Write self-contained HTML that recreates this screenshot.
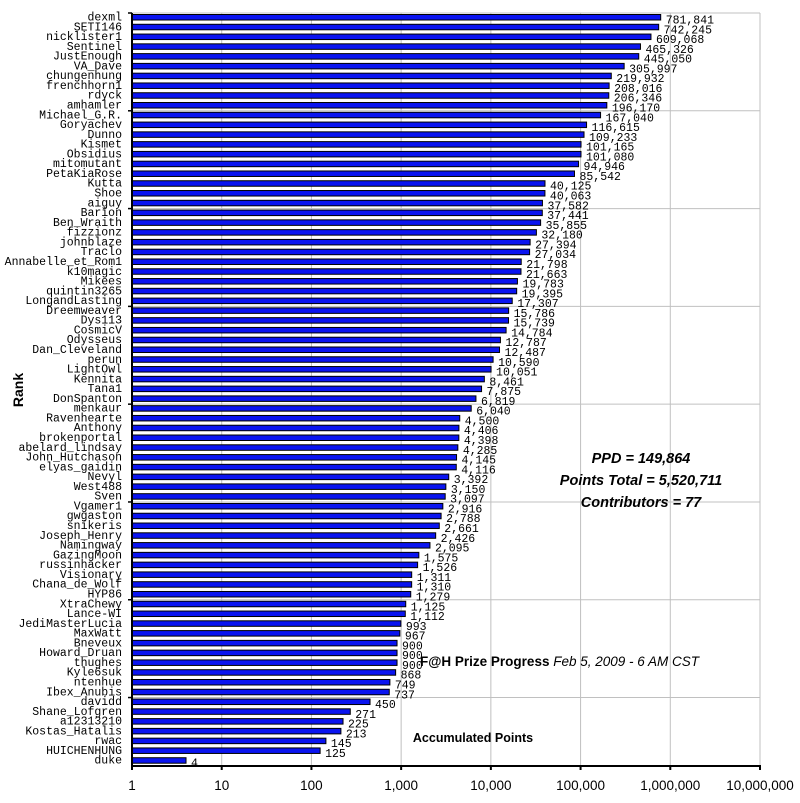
<!DOCTYPE html>
<html><head><meta charset="utf-8"><style>
html,body{margin:0;padding:0;background:#fff}
svg{display:block}
.mono{font-family:"Liberation Mono",monospace;font-size:11.5px}
</style></head><body>
<svg id="chart" width="800" height="803" xmlns="http://www.w3.org/2000/svg">
<g id="grid"></g>
<g id="bars"></g>
<g id="axes"></g>
<text x="0" y="0" transform="translate(23,390) rotate(-90)" text-anchor="middle" font-family="Liberation Sans,sans-serif" font-weight="bold" font-size="14">Rank</text>
<text x="473" y="742" text-anchor="middle" font-family="Liberation Sans,sans-serif" font-weight="bold" font-size="12.5">Accumulated Points</text>
<g font-family="Liberation Sans,sans-serif" font-style="italic" font-weight="bold" font-size="14.5" text-anchor="middle">
<text x="641" y="463">PPD = 149,864</text>
<text x="641" y="485">Points Total = 5,520,711</text>
<text x="641" y="507">Contributors = 77</text>
</g>
<text x="420" y="666" font-family="Liberation Sans,sans-serif" font-size="13.5"><tspan font-weight="bold">F@H Prize Progress</tspan><tspan font-style="italic"> Feb 5, 2009 - 6 AM CST</tspan></text>
</svg>
<script>
const names=["dexml","SETI146","nicklister1","Sentinel","JustEnough","VA_Dave","chungenhung","frenchhorn1","rdyck","amhamler","Michael_G.R.","Goryachev","Dunno","Kismet","Obsidius","mitomutant","PetaKiaRose","Kutta","Shoe","aiguy","Barion","Ben_Wraith","fizzionz","johnblaze","Traclo","Annabelle_et_Rom1","k10magic","Mikees","quintin3265","LongandLasting","Dreemweaver","Dys113","CosmicV","Odysseus","Dan_Cleveland","perun","LightOwl","Kennita","Tana1","DonSpanton","menkaur","Ravenhearte","Anthony","brokenportal","abelard_lindsay","John_Hutchason","elyas_gaidin","Nevyl","West488","Sven","Vgamer1","gwgaston","snikeris","Joseph_Henry","Namingway","GazingMoon","russinhacker","Visionary","Chana_de_Wolf","HYP86","XtraChewy","Lance-WI","JediMasterLucia","MaxWatt","Bneveux","Howard_Druan","thughes","Kyle6suk","ntenhue","Ibex_Anubis","davidd","Shane_Lofgren","a12313210","Kostas_Hatalis","rwac","HUICHENHUNG","duke"];
const points=[781841,742245,609068,465326,445050,305997,219932,208016,206346,196170,167040,116615,109233,101165,101080,94946,85542,40125,40063,37582,37441,35855,32180,27394,27034,21798,21663,19783,19395,17307,15786,15739,14784,12787,12487,10590,10051,8461,7875,6819,6040,4500,4406,4398,4285,4145,4116,3392,3150,3097,2916,2788,2661,2426,2095,1575,1526,1311,1310,1279,1125,1112,993,967,900,900,900,868,749,737,450,271,225,213,145,125,4];
const xTicks=[1,10,100,1000,10000,100000,1000000,10000000];
const L=132,R=760,T=13,B=766;
const NS="http://www.w3.org/2000/svg";
const band=(B-T)/names.length;
function x(v){return L+Math.log10(v)/7*(R-L);}
function y(i){return T+i*band;}
function mk(tag,attrs,parent){const e=document.createElementNS(NS,tag);for(const k in attrs)e.setAttribute(k,attrs[k]);parent.appendChild(e);return e;}
const grid=document.getElementById('grid'),bars=document.getElementById('bars'),axes=document.getElementById('axes');
xTicks.forEach((t,k)=>{if(k>0){const g=mk('line',{x1:x(t),x2:x(t),y1:T,y2:B,stroke:'#c0c0c0','stroke-width':1},grid);

}
const tk=mk('line',{x1:x(t),x2:x(t),y1:B,y2:B+4,stroke:'#000','stroke-width':2},axes);


const lb=mk('text',{x:x(t),y:B+24,'text-anchor':'middle','font-family':'Liberation Sans,sans-serif','font-size':'13.5'},axes);
lb.textContent=t.toLocaleString('en-US');

});
for(let i=0;i<names.length;i+=10){const g=mk('line',{x1:L,x2:R,y1:y(i),y2:y(i),stroke:'#c0c0c0','stroke-width':1},grid);


const tk=mk('line',{x1:L-4,x2:L,y1:y(i),y2:y(i),stroke:'#000','stroke-width':1.5},axes);

}
names.forEach((n,i)=>{const yt=y(i)+1.5;
const r=mk('rect',{x:L,y:yt,width:Math.max(0,x(points[i])-L),height:5.5,fill:'#0a14f0',stroke:'#000','stroke-width':1},bars);


const v=mk('text',{x:x(points[i])+5,y:yt+9,class:'mono'},bars);
v.textContent=points[i].toLocaleString('en-US');


const c=mk('text',{x:122,y:yt+6,'text-anchor':'end',class:'mono'},axes);
c.textContent=n;

});
const topBorder=mk('line',{x1:L,x2:R,y1:T,y2:T,stroke:'#c0c0c0','stroke-width':1},grid);


const ya=mk('line',{x1:L,x2:L,y1:T,y2:B+1,stroke:'#000','stroke-width':2},axes);


const xa=mk('line',{x1:L-1,x2:R+1,y1:B,y2:B,stroke:'#000','stroke-width':2},axes);


</script>
</body></html>
